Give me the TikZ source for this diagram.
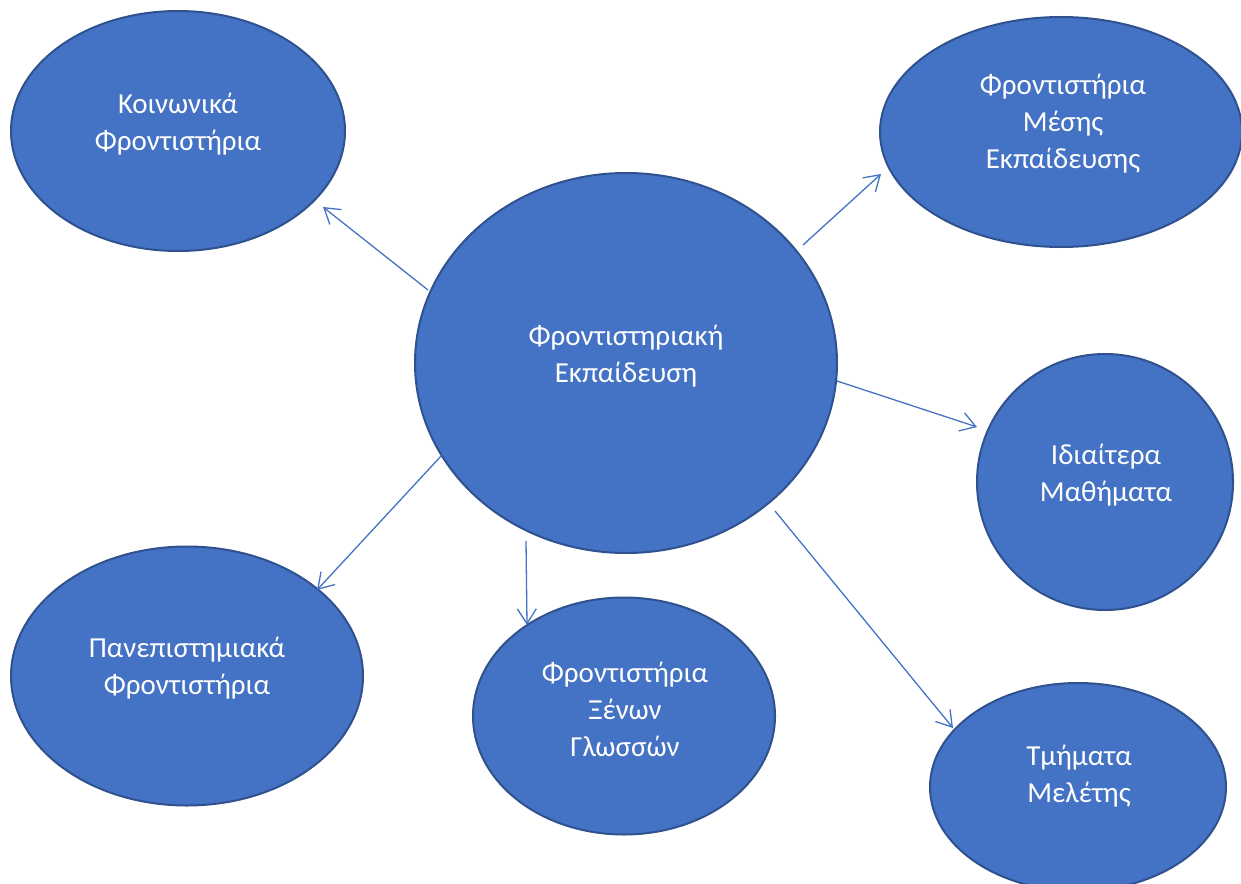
\documentclass[tikz,border=0pt]{standalone}
\usepackage{fontspec}
\setmainfont{Carlito}
\usetikzlibrary{shapes.geometric,arrows.meta}
\definecolor{bfill}{HTML}{4472C4}
\definecolor{bline}{HTML}{2F528F}
\tikzset{
  bubble/.style={ellipse, fill=bfill, draw=bline, line width=2pt, inner sep=0pt},
  lbl/.style={text=white, align=center, font=\fontsize{29}{37}\selectfont, inner sep=0pt},
  conn/.style={draw=bfill, line width=1.3pt, -{Straight Barb[length=15pt,width=19pt,line width=1.3pt]}}
}
\begin{document}
\begin{tikzpicture}[x=1pt,y=-1pt]
\useasboundingbox (0,0) rectangle (1241,883);
% ellipses
\node[bubble, minimum width=334pt, minimum height=240pt] (koin) at (178,131) {};
\node[bubble, minimum width=422pt, minimum height=380pt] (kentro) at (626,363) {};
\node[bubble, minimum width=362pt, minimum height=230pt] (mesis) at (1061,132) {};
\node[bubble, minimum width=256pt, minimum height=256pt] (idiait) at (1105,482) {};
\node[bubble, minimum width=296pt, minimum height=208pt] (tmim) at (1078,787) {};
\node[bubble, minimum width=302pt, minimum height=237pt] (xenon) at (624,716) {};
\node[bubble, minimum width=352pt, minimum height=259pt] (panep) at (187,676) {};
% labels
\node[lbl] (tkoin) at (178,124) {Κοινωνικά\\Φροντιστήρια};
\node[lbl] (tkentro) at (626,356) {Φροντιστηριακή\\Εκπαίδευση};
\node[lbl] (tmesis) at (1063,124) {Φροντιστήρια\\Μέσης\\Εκπαίδευσης};
\node[lbl] (tidiait) at (1106,475) {Ιδιαίτερα\\Μαθήματα};
\node[lbl] (ttmim) at (1079,776) {Τμήματα\\Μελέτης};
\node[lbl] (txenon) at (625,709) {Φροντιστήρια\\Ξένων\\Γλωσσών};
\node[lbl] (tpanep) at (187,668) {Πανεπιστημιακά\\Φροντιστήρια};
% connector ends
\coordinate (s1) at (428,290); \coordinate (e1) at (323,207);
\coordinate (s2) at (803,245); \coordinate (e2) at (881,174);
\coordinate (s3) at (837,381); \coordinate (e3) at (977,427);
\coordinate (s4) at (775,511); \coordinate (e4) at (953,728);
\coordinate (s5) at (526,541); \coordinate (e5) at (527,625);
\coordinate (s6) at (442,455); \coordinate (e6) at (317,590);
\draw[conn] (s1) -- (e1);
\draw[conn] (s2) -- (e2);
\draw[conn] (s3) -- (e3);
\draw[conn] (s4) -- (e4);
\draw[conn] (s5) -- (e5);
\draw[conn] (s6) -- (e6);
\end{tikzpicture}
\end{document}
